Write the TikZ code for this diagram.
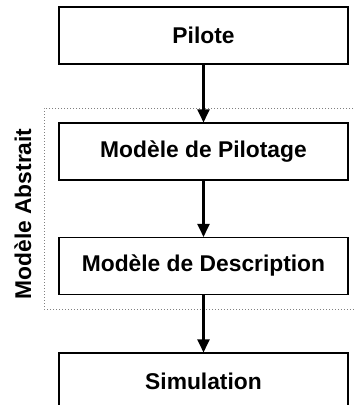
\documentclass[tikz,border=0pt]{standalone}
\usepackage{fontspec}
\setmainfont{Liberation Sans}
\usetikzlibrary{arrows.meta}
\begin{document}
\begin{tikzpicture}[x=1pt,y=-1pt,
  boldtext/.style={font=\fontsize{22.8}{27}\selectfont\bfseries},
  stagebox/.style={boldtext, draw=black, line width=1.1pt, minimum width=289pt, minimum height=57pt,
    inner sep=0pt},
  flow/.style={line width=2.2pt, -{Triangle[length=13pt,width=12pt]}},
  groupframe/.style={draw=gray, line width=1pt, dash pattern=on 1pt off 2pt}]
  \useasboundingbox (0,0) rectangle (355,405);
  \clip (0,0) rectangle (355,405);
  % dotted frame of the abstract-model group, open to the right
  \draw[groupframe] (362,108) -- (44,108) -- (44,309) -- (362,309);
  \node[boldtext, rotate=90] (grp) at (23,214) {Modèle Abstrait};
  % stages
  \node[stagebox] (pilote)   at (203.5,35.5)  {Pilote};
  \node[stagebox] (pilotage) at (203.5,151.5) {Modèle de Pilotage};
  \node[stagebox] (descr)    at (203.5,266)   {Modèle de Description};
  \node[stagebox] (simu)     at (203.5,381.5) {Simulation};
  % connectors
  \draw[flow] (pilote) -- (pilotage);
  \draw[flow] (pilotage) -- (descr);
  \draw[flow] (descr) -- (simu);
\end{tikzpicture}
\end{document}
